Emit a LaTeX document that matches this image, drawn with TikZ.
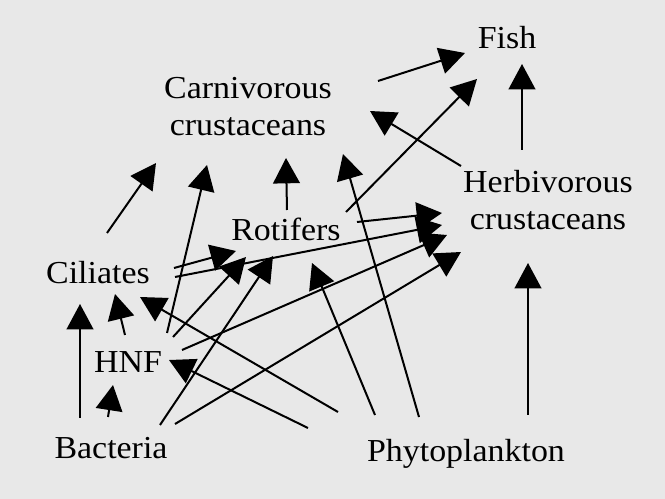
\documentclass[tikz,border=0pt]{standalone}
\usepackage{fontspec}
\setmainfont[FakeStretch=1.06]{Liberation Serif}
\usetikzlibrary{arrows.meta}
\definecolor{bggray}{RGB}{232,232,232}

\begin{document}
\begin{tikzpicture}[x=0.75pt,y=-0.75pt]
\fill[bggray] (0,0) rectangle (665,499);
\useasboundingbox (0,0) rectangle (665,499);

\begin{scope}[every node/.style={anchor=base,inner sep=0pt,align=center,
              font=\fontsize{24}{27.75}\selectfont}]
    \node (fish) at (507,49) {Fish};
    \node (carn) at (248,136) {Carnivorous\\crustaceans};
    \node (herb) at (548,230) {Herbivorous\\crustaceans};
    \node (rot) at (286,241) {Rotifers};
    \node (cil) at (98,284) {Ciliates};
    \node (hnf) at (128,373) {HNF};
    \node (bact) at (111,459) {Bacteria};
    \node (phyto) at (466,461) {Phytoplankton};
\end{scope}

\begin{scope}[link/.style={draw=black,line width=1.5pt,
              -{Triangle[length=19pt,width=20pt]}}]
    \draw[link] ([shift={(130,-55)}]carn.base) -- ([shift={(-42,4)}]fish.base);
    \draw[link] ([shift={(-26,-80)}]herb.base) -- ([shift={(15,15)}]fish.base);
    \draw[link] ([shift={(-87,-64)}]herb.base) -- ([shift={(122,-25)}]carn.base);
    \draw[link] ([shift={(60,-29)}]rot.base) -- ([shift={(-30,30)}]fish.base);
    \draw[link] ([shift={(-47,-44)}]phyto.base) -- ([shift={(95,18)}]carn.base);
    \draw[link] ([shift={(-91,-46)}]phyto.base) -- ([shift={(26,22)}]rot.base);
    \draw[link] ([shift={(-158,-33)}]phyto.base) -- ([shift={(41,-13)}]hnf.base);
    \draw[link] ([shift={(-128,-49)}]phyto.base) -- ([shift={(42,13)}]cil.base);
    \draw[link] ([shift={(62,-46)}]phyto.base) -- ([shift={(-20,33)}]herb.base);
    \draw[link] ([shift={(-31,-41)}]bact.base) -- ([shift={(-18,20)}]cil.base);
    \draw[link] ([shift={(-3,-42)}]bact.base) -- ([shift={(-15,12)}]hnf.base);
    \draw[link] ([shift={(49,-34)}]bact.base) -- ([shift={(-13,15)}]rot.base);
    \draw[link] ([shift={(64,-35)}]bact.base) -- ([shift={(-87,22)}]herb.base);
    \draw[link] ([shift={(-3,-38)}]hnf.base) -- ([shift={(17,10)}]cil.base);
    \draw[link] ([shift={(39,-40)}]hnf.base) -- ([shift={(-41,29)}]carn.base);
    \draw[link] ([shift={(45,-36)}]hnf.base) -- ([shift={(-40,16)}]rot.base);
    \draw[link] ([shift={(54,-23)}]hnf.base) -- ([shift={(-101,5)}]herb.base);
    \draw[link] ([shift={(9,-51)}]cil.base) -- ([shift={(-92,27)}]carn.base);
    \draw[link] ([shift={(76,-16)}]cil.base) -- ([shift={(-50,10)}]rot.base);
    \draw[link] ([shift={(77,-7)}]cil.base) -- ([shift={(-106,-5)}]herb.base);
    \draw[link] ([shift={(1,-31)}]rot.base) -- ([shift={(38,22)}]carn.base);
    \draw[link] ([shift={(71,-19)}]rot.base) -- ([shift={(-106,-17)}]herb.base);
\end{scope}
\end{tikzpicture}
\end{document}
